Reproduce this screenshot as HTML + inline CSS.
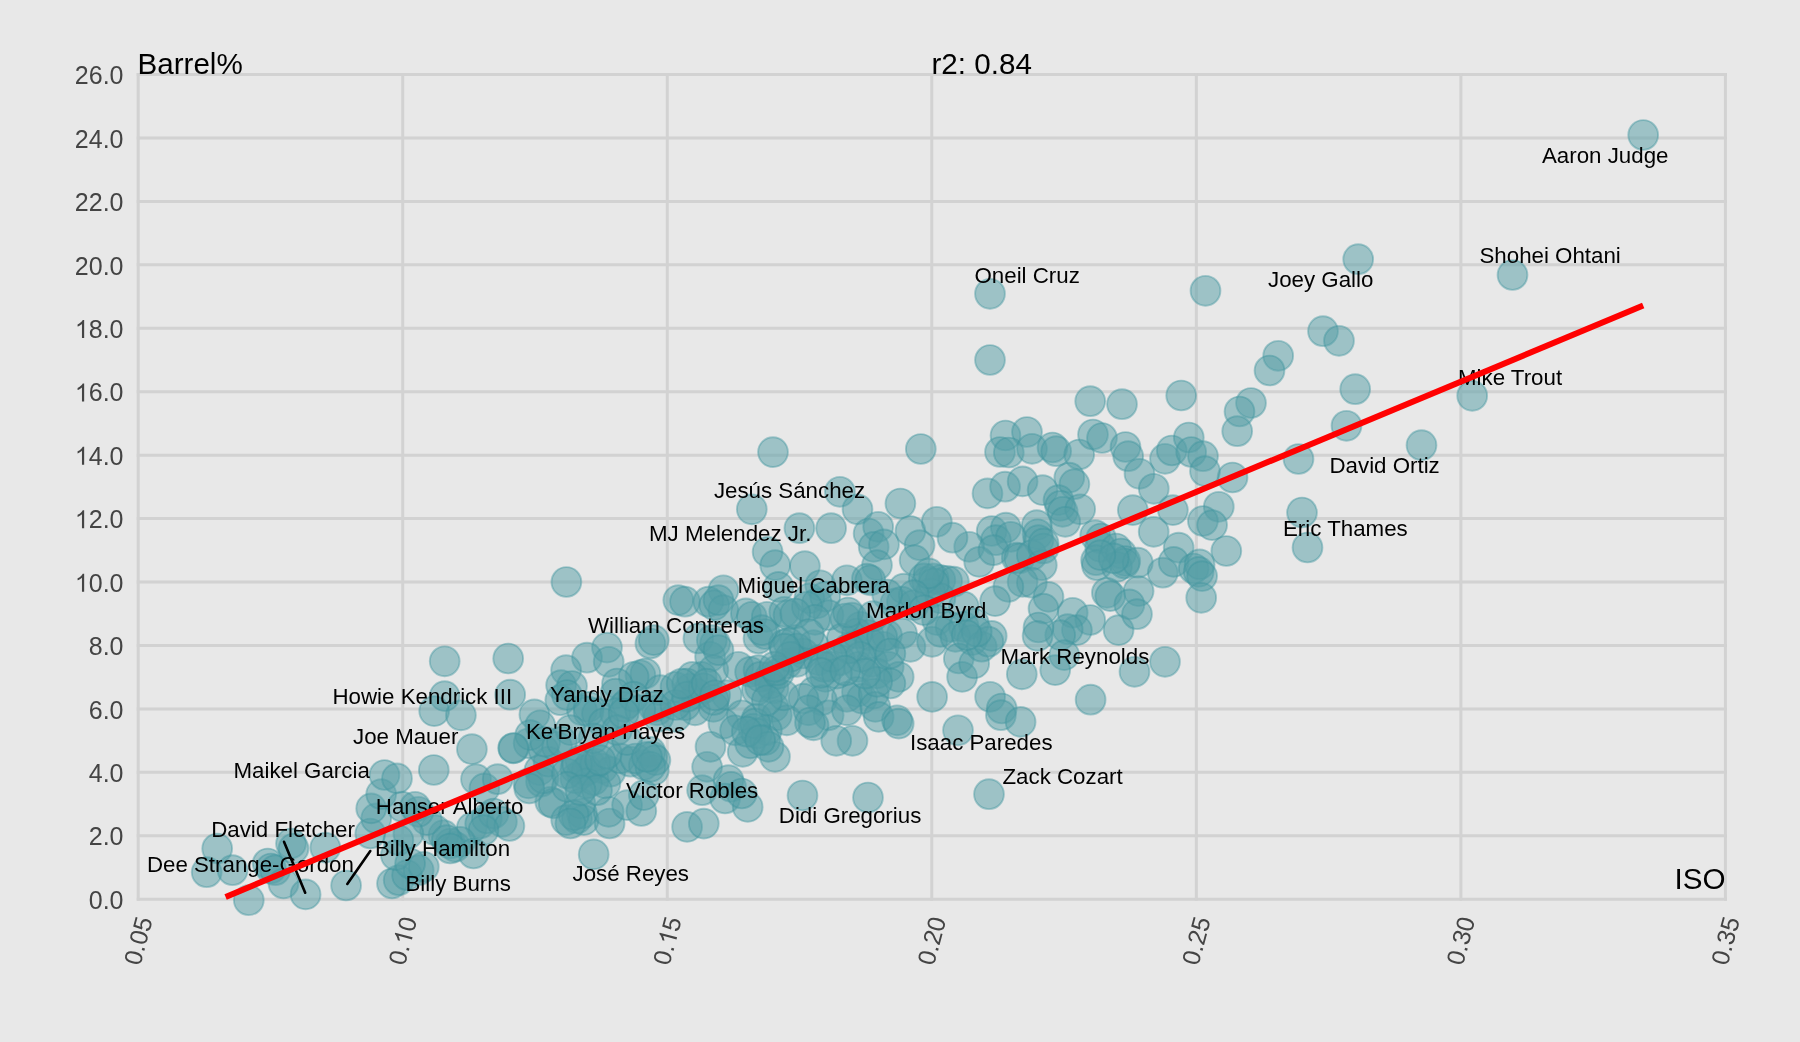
<!DOCTYPE html>
<html><head><meta charset="utf-8"><title>chart</title>
<style>
html,body{margin:0;padding:0;background:#e8e8e8;}
body{width:1800px;height:1042px;overflow:hidden;font-family:"Liberation Sans",sans-serif;}
svg{display:block;will-change:transform;opacity:0.999}
text{font-family:"Liberation Sans",sans-serif;}
.g{stroke:#d2d2d2;stroke-width:3;fill:none}
.yt{font-size:25px;fill:#444;text-anchor:end}
.xt{font-size:25px;fill:#444;text-anchor:end}
.nm{font-size:22.3px;fill:#000}
.ti{font-size:29.6px;fill:#000}
.c{fill:#539da5;fill-opacity:0.5;stroke:#3f939d;stroke-opacity:0.42;stroke-width:1.9}
</style></head><body>
<svg width="1800" height="1042" viewBox="0 0 1800 1042">

<line class="g" x1="136.7" x2="1726.9" y1="899.20" y2="899.20"/>
<line class="g" x1="136.7" x2="1726.9" y1="835.76" y2="835.76"/>
<line class="g" x1="136.7" x2="1726.9" y1="772.32" y2="772.32"/>
<line class="g" x1="136.7" x2="1726.9" y1="708.88" y2="708.88"/>
<line class="g" x1="136.7" x2="1726.9" y1="645.45" y2="645.45"/>
<line class="g" x1="136.7" x2="1726.9" y1="582.01" y2="582.01"/>
<line class="g" x1="136.7" x2="1726.9" y1="518.57" y2="518.57"/>
<line class="g" x1="136.7" x2="1726.9" y1="455.13" y2="455.13"/>
<line class="g" x1="136.7" x2="1726.9" y1="391.69" y2="391.69"/>
<line class="g" x1="136.7" x2="1726.9" y1="328.25" y2="328.25"/>
<line class="g" x1="136.7" x2="1726.9" y1="264.82" y2="264.82"/>
<line class="g" x1="136.7" x2="1726.9" y1="201.38" y2="201.38"/>
<line class="g" x1="136.7" x2="1726.9" y1="137.94" y2="137.94"/>
<line class="g" x1="136.7" x2="1726.9" y1="74.50" y2="74.50"/>
<line class="g" y1="73.0" y2="900.7" x1="138.20" x2="138.20"/>
<line class="g" y1="73.0" y2="900.7" x1="402.73" x2="402.73"/>
<line class="g" y1="73.0" y2="900.7" x1="667.27" x2="667.27"/>
<line class="g" y1="73.0" y2="900.7" x1="931.80" x2="931.80"/>
<line class="g" y1="73.0" y2="900.7" x1="1196.33" x2="1196.33"/>
<line class="g" y1="73.0" y2="900.7" x1="1460.87" x2="1460.87"/>
<line class="g" y1="73.0" y2="900.7" x1="1725.40" x2="1725.40"/>
<g transform="translate(123.5,908.90)"><text class="yt" x="0.00" y="0">0.0</text></g>
<g transform="translate(123.5,845.46)"><text class="yt" x="0.00" y="0">2.0</text></g>
<g transform="translate(123.5,782.02)"><text class="yt" x="0.00" y="0">4.0</text></g>
<g transform="translate(123.5,718.58)"><text class="yt" x="0.00" y="0">6.0</text></g>
<g transform="translate(123.5,655.15)"><text class="yt" x="0.00" y="0">8.0</text></g>
<g transform="translate(123.5,591.71)"><text class="yt" x="0.00" y="0">0.0</text><path d="M763 0H583V1147Q518 1085 412.5 1023Q307 961 223 930V1104Q374 1175 487 1276Q600 1377 647 1472H763Z" fill="#444" transform="translate(-48.65,0) scale(0.012207,-0.012207)"/></g>
<g transform="translate(123.5,528.27)"><text class="yt" x="0.00" y="0">2.0</text><path d="M763 0H583V1147Q518 1085 412.5 1023Q307 961 223 930V1104Q374 1175 487 1276Q600 1377 647 1472H763Z" fill="#444" transform="translate(-48.65,0) scale(0.012207,-0.012207)"/></g>
<g transform="translate(123.5,464.83)"><text class="yt" x="0.00" y="0">4.0</text><path d="M763 0H583V1147Q518 1085 412.5 1023Q307 961 223 930V1104Q374 1175 487 1276Q600 1377 647 1472H763Z" fill="#444" transform="translate(-48.65,0) scale(0.012207,-0.012207)"/></g>
<g transform="translate(123.5,401.39)"><text class="yt" x="0.00" y="0">6.0</text><path d="M763 0H583V1147Q518 1085 412.5 1023Q307 961 223 930V1104Q374 1175 487 1276Q600 1377 647 1472H763Z" fill="#444" transform="translate(-48.65,0) scale(0.012207,-0.012207)"/></g>
<g transform="translate(123.5,337.95)"><text class="yt" x="0.00" y="0">8.0</text><path d="M763 0H583V1147Q518 1085 412.5 1023Q307 961 223 930V1104Q374 1175 487 1276Q600 1377 647 1472H763Z" fill="#444" transform="translate(-48.65,0) scale(0.012207,-0.012207)"/></g>
<g transform="translate(123.5,274.52)"><text class="yt" x="0.00" y="0">20.0</text></g>
<g transform="translate(123.5,211.08)"><text class="yt" x="0.00" y="0">22.0</text></g>
<g transform="translate(123.5,147.64)"><text class="yt" x="0.00" y="0">24.0</text></g>
<g transform="translate(123.5,84.20)"><text class="yt" x="0.00" y="0">26.0</text></g>
<g transform="translate(152.80,919.5) rotate(-75)"><text class="xt" x="0.00" y="0">0.05</text></g>
<g transform="translate(417.33,919.5) rotate(-75)"><text class="xt" x="0.00" y="0">0</text><path d="M763 0H583V1147Q518 1085 412.5 1023Q307 961 223 930V1104Q374 1175 487 1276Q600 1377 647 1472H763Z" fill="#444" transform="translate(-27.80,0) scale(0.012207,-0.012207)"/><text class="xt" x="-27.80" y="0">0.</text></g>
<g transform="translate(681.87,919.5) rotate(-75)"><text class="xt" x="0.00" y="0">5</text><path d="M763 0H583V1147Q518 1085 412.5 1023Q307 961 223 930V1104Q374 1175 487 1276Q600 1377 647 1472H763Z" fill="#444" transform="translate(-27.80,0) scale(0.012207,-0.012207)"/><text class="xt" x="-27.80" y="0">0.</text></g>
<g transform="translate(946.40,919.5) rotate(-75)"><text class="xt" x="0.00" y="0">0.20</text></g>
<g transform="translate(1210.93,919.5) rotate(-75)"><text class="xt" x="0.00" y="0">0.25</text></g>
<g transform="translate(1475.47,919.5) rotate(-75)"><text class="xt" x="0.00" y="0">0.30</text></g>
<g transform="translate(1740.00,919.5) rotate(-75)"><text class="xt" x="0.00" y="0">0.35</text></g>
<circle class="c" cx="1643.2" cy="135.0" r="14.9"/>
<circle class="c" cx="1512.5" cy="275.0" r="14.9"/>
<circle class="c" cx="1358.2" cy="259.2" r="14.9"/>
<circle class="c" cx="1205.5" cy="290.8" r="14.9"/>
<circle class="c" cx="1323.0" cy="331.2" r="14.9"/>
<circle class="c" cx="1339.0" cy="340.8" r="14.9"/>
<circle class="c" cx="1278.2" cy="355.8" r="14.9"/>
<circle class="c" cx="1269.5" cy="370.5" r="14.9"/>
<circle class="c" cx="1355.2" cy="389.2" r="14.9"/>
<circle class="c" cx="1251.0" cy="403.0" r="14.9"/>
<circle class="c" cx="1239.5" cy="411.5" r="14.9"/>
<circle class="c" cx="1237.2" cy="431.2" r="14.9"/>
<circle class="c" cx="1346.5" cy="425.8" r="14.9"/>
<circle class="c" cx="1472.2" cy="395.8" r="14.9"/>
<circle class="c" cx="1421.5" cy="445.2" r="14.9"/>
<circle class="c" cx="1298.5" cy="459.0" r="14.9"/>
<circle class="c" cx="1232.5" cy="477.5" r="14.9"/>
<circle class="c" cx="990.0" cy="293.8" r="14.9"/>
<circle class="c" cx="990.0" cy="360.0" r="14.9"/>
<circle class="c" cx="1090.2" cy="401.2" r="14.9"/>
<circle class="c" cx="1122.0" cy="404.2" r="14.9"/>
<circle class="c" cx="1181.2" cy="395.5" r="14.9"/>
<circle class="c" cx="920.8" cy="449.0" r="14.9"/>
<circle class="c" cx="1005.5" cy="435.5" r="14.9"/>
<circle class="c" cx="1027.0" cy="432.0" r="14.9"/>
<circle class="c" cx="1000.0" cy="452.0" r="14.9"/>
<circle class="c" cx="1008.8" cy="452.5" r="14.9"/>
<circle class="c" cx="1032.0" cy="448.8" r="14.9"/>
<circle class="c" cx="1052.5" cy="447.5" r="14.9"/>
<circle class="c" cx="1056.2" cy="451.2" r="14.9"/>
<circle class="c" cx="1079.2" cy="454.5" r="14.9"/>
<circle class="c" cx="1093.0" cy="434.5" r="14.9"/>
<circle class="c" cx="1102.0" cy="438.0" r="14.9"/>
<circle class="c" cx="1125.5" cy="447.0" r="14.9"/>
<circle class="c" cx="1128.2" cy="456.2" r="14.9"/>
<circle class="c" cx="1165.0" cy="458.8" r="14.9"/>
<circle class="c" cx="1171.8" cy="450.5" r="14.9"/>
<circle class="c" cx="1188.8" cy="437.5" r="14.9"/>
<circle class="c" cx="1191.2" cy="452.0" r="14.9"/>
<circle class="c" cx="1203.0" cy="456.2" r="14.9"/>
<circle class="c" cx="1205.0" cy="471.2" r="14.9"/>
<circle class="c" cx="1139.5" cy="473.8" r="14.9"/>
<circle class="c" cx="1153.8" cy="488.8" r="14.9"/>
<circle class="c" cx="987.5" cy="493.4" r="14.9"/>
<circle class="c" cx="1005.1" cy="486.7" r="14.9"/>
<circle class="c" cx="1022.6" cy="481.4" r="14.9"/>
<circle class="c" cx="1042.6" cy="490.1" r="14.9"/>
<circle class="c" cx="1069.3" cy="477.6" r="14.9"/>
<circle class="c" cx="1074.4" cy="484.2" r="14.9"/>
<circle class="c" cx="1058.5" cy="500.1" r="14.9"/>
<circle class="c" cx="1060.2" cy="505.9" r="14.9"/>
<circle class="c" cx="1062.7" cy="511.8" r="14.9"/>
<circle class="c" cx="1080.2" cy="509.3" r="14.9"/>
<circle class="c" cx="1065.2" cy="521.8" r="14.9"/>
<circle class="c" cx="1132.8" cy="510.1" r="14.9"/>
<circle class="c" cx="1172.9" cy="510.1" r="14.9"/>
<circle class="c" cx="1218.8" cy="506.8" r="14.9"/>
<circle class="c" cx="1202.9" cy="521.0" r="14.9"/>
<circle class="c" cx="1212.1" cy="525.1" r="14.9"/>
<circle class="c" cx="1153.7" cy="531.8" r="14.9"/>
<circle class="c" cx="1178.7" cy="547.7" r="14.9"/>
<circle class="c" cx="1226.3" cy="551.0" r="14.9"/>
<circle class="c" cx="991.7" cy="531.0" r="14.9"/>
<circle class="c" cx="1005.9" cy="527.6" r="14.9"/>
<circle class="c" cx="995.9" cy="540.2" r="14.9"/>
<circle class="c" cx="1036.8" cy="525.1" r="14.9"/>
<circle class="c" cx="1037.6" cy="534.3" r="14.9"/>
<circle class="c" cx="1038.5" cy="540.2" r="14.9"/>
<circle class="c" cx="1010.9" cy="536.8" r="14.9"/>
<circle class="c" cx="969.2" cy="546.8" r="14.9"/>
<circle class="c" cx="979.2" cy="561.9" r="14.9"/>
<circle class="c" cx="993.4" cy="550.2" r="14.9"/>
<circle class="c" cx="1016.8" cy="557.7" r="14.9"/>
<circle class="c" cx="1019.3" cy="558.5" r="14.9"/>
<circle class="c" cx="1031.8" cy="555.2" r="14.9"/>
<circle class="c" cx="1043.5" cy="548.5" r="14.9"/>
<circle class="c" cx="1041.8" cy="565.2" r="14.9"/>
<circle class="c" cx="1095.2" cy="535.2" r="14.9"/>
<circle class="c" cx="1101.1" cy="538.5" r="14.9"/>
<circle class="c" cx="1100.2" cy="546.8" r="14.9"/>
<circle class="c" cx="1096.1" cy="560.2" r="14.9"/>
<circle class="c" cx="1096.9" cy="565.2" r="14.9"/>
<circle class="c" cx="1116.1" cy="548.5" r="14.9"/>
<circle class="c" cx="1121.1" cy="553.5" r="14.9"/>
<circle class="c" cx="1125.3" cy="561.0" r="14.9"/>
<circle class="c" cx="1116.9" cy="566.9" r="14.9"/>
<circle class="c" cx="1124.4" cy="563.5" r="14.9"/>
<circle class="c" cx="1137.8" cy="562.7" r="14.9"/>
<circle class="c" cx="1162.8" cy="572.7" r="14.9"/>
<circle class="c" cx="1173.7" cy="561.9" r="14.9"/>
<circle class="c" cx="1193.7" cy="568.5" r="14.9"/>
<circle class="c" cx="1199.6" cy="564.4" r="14.9"/>
<circle class="c" cx="1198.7" cy="571.9" r="14.9"/>
<circle class="c" cx="1202.1" cy="576.1" r="14.9"/>
<circle class="c" cx="1201.2" cy="597.8" r="14.9"/>
<circle class="c" cx="1138.6" cy="591.1" r="14.9"/>
<circle class="c" cx="1106.9" cy="592.8" r="14.9"/>
<circle class="c" cx="1110.3" cy="596.1" r="14.9"/>
<circle class="c" cx="1129.4" cy="604.4" r="14.9"/>
<circle class="c" cx="1022.6" cy="581.9" r="14.9"/>
<circle class="c" cx="1031.8" cy="582.7" r="14.9"/>
<circle class="c" cx="1008.4" cy="586.9" r="14.9"/>
<circle class="c" cx="995.1" cy="601.1" r="14.9"/>
<circle class="c" cx="1048.5" cy="596.9" r="14.9"/>
<circle class="c" cx="1043.5" cy="608.6" r="14.9"/>
<circle class="c" cx="1072.7" cy="612.8" r="14.9"/>
<circle class="c" cx="773.0" cy="452.1" r="14.9"/>
<circle class="c" cx="839.9" cy="491.8" r="14.9"/>
<circle class="c" cx="751.8" cy="509.3" r="14.9"/>
<circle class="c" cx="857.5" cy="509.3" r="14.9"/>
<circle class="c" cx="900.4" cy="503.5" r="14.9"/>
<circle class="c" cx="799.4" cy="528.2" r="14.9"/>
<circle class="c" cx="831.1" cy="528.2" r="14.9"/>
<circle class="c" cx="868.6" cy="533.5" r="14.9"/>
<circle class="c" cx="878.2" cy="526.8" r="14.9"/>
<circle class="c" cx="873.7" cy="546.9" r="14.9"/>
<circle class="c" cx="884.0" cy="544.4" r="14.9"/>
<circle class="c" cx="910.4" cy="531.0" r="14.9"/>
<circle class="c" cx="936.8" cy="521.8" r="14.9"/>
<circle class="c" cx="919.6" cy="545.2" r="14.9"/>
<circle class="c" cx="952.5" cy="537.7" r="14.9"/>
<circle class="c" cx="914.6" cy="560.2" r="14.9"/>
<circle class="c" cx="767.6" cy="551.9" r="14.9"/>
<circle class="c" cx="775.2" cy="565.2" r="14.9"/>
<circle class="c" cx="804.9" cy="566.1" r="14.9"/>
<circle class="c" cx="877.0" cy="565.2" r="14.9"/>
<circle class="c" cx="723.4" cy="590.3" r="14.9"/>
<circle class="c" cx="778.5" cy="586.9" r="14.9"/>
<circle class="c" cx="820.2" cy="585.3" r="14.9"/>
<circle class="c" cx="846.9" cy="580.3" r="14.9"/>
<circle class="c" cx="867.0" cy="578.6" r="14.9"/>
<circle class="c" cx="870.3" cy="580.3" r="14.9"/>
<circle class="c" cx="903.7" cy="588.6" r="14.9"/>
<circle class="c" cx="927.1" cy="581.7" r="14.9"/>
<circle class="c" cx="933.8" cy="578.4" r="14.9"/>
<circle class="c" cx="940.4" cy="580.0" r="14.9"/>
<circle class="c" cx="947.1" cy="580.9" r="14.9"/>
<circle class="c" cx="953.8" cy="581.7" r="14.9"/>
<circle class="c" cx="678.3" cy="600.1" r="14.9"/>
<circle class="c" cx="685.0" cy="601.7" r="14.9"/>
<circle class="c" cx="708.4" cy="601.7" r="14.9"/>
<circle class="c" cx="714.2" cy="605.1" r="14.9"/>
<circle class="c" cx="723.4" cy="610.1" r="14.9"/>
<circle class="c" cx="745.9" cy="613.4" r="14.9"/>
<circle class="c" cx="751.8" cy="616.8" r="14.9"/>
<circle class="c" cx="766.8" cy="616.8" r="14.9"/>
<circle class="c" cx="784.3" cy="611.8" r="14.9"/>
<circle class="c" cx="788.5" cy="615.1" r="14.9"/>
<circle class="c" cx="809.4" cy="598.4" r="14.9"/>
<circle class="c" cx="816.9" cy="603.4" r="14.9"/>
<circle class="c" cx="825.2" cy="596.7" r="14.9"/>
<circle class="c" cx="828.6" cy="615.1" r="14.9"/>
<circle class="c" cx="852.0" cy="617.6" r="14.9"/>
<circle class="c" cx="860.3" cy="626.8" r="14.9"/>
<circle class="c" cx="895.4" cy="603.4" r="14.9"/>
<circle class="c" cx="902.0" cy="601.7" r="14.9"/>
<circle class="c" cx="913.7" cy="605.1" r="14.9"/>
<circle class="c" cx="930.4" cy="593.4" r="14.9"/>
<circle class="c" cx="940.4" cy="598.4" r="14.9"/>
<circle class="c" cx="963.8" cy="606.7" r="14.9"/>
<circle class="c" cx="937.1" cy="620.1" r="14.9"/>
<circle class="c" cx="950.5" cy="626.8" r="14.9"/>
<circle class="c" cx="963.8" cy="626.8" r="14.9"/>
<circle class="c" cx="973.8" cy="623.4" r="14.9"/>
<circle class="c" cx="698.4" cy="638.5" r="14.9"/>
<circle class="c" cx="715.1" cy="643.5" r="14.9"/>
<circle class="c" cx="710.1" cy="656.8" r="14.9"/>
<circle class="c" cx="758.5" cy="638.5" r="14.9"/>
<circle class="c" cx="765.1" cy="634.0" r="14.9"/>
<circle class="c" cx="783.8" cy="644.7" r="14.9"/>
<circle class="c" cx="795.2" cy="640.1" r="14.9"/>
<circle class="c" cx="813.6" cy="645.1" r="14.9"/>
<circle class="c" cx="803.5" cy="653.5" r="14.9"/>
<circle class="c" cx="841.9" cy="638.5" r="14.9"/>
<circle class="c" cx="855.3" cy="648.5" r="14.9"/>
<circle class="c" cx="868.6" cy="635.1" r="14.9"/>
<circle class="c" cx="883.7" cy="646.8" r="14.9"/>
<circle class="c" cx="887.0" cy="635.1" r="14.9"/>
<circle class="c" cx="902.0" cy="633.5" r="14.9"/>
<circle class="c" cx="910.4" cy="646.8" r="14.9"/>
<circle class="c" cx="932.1" cy="641.8" r="14.9"/>
<circle class="c" cx="940.4" cy="631.8" r="14.9"/>
<circle class="c" cx="955.5" cy="636.8" r="14.9"/>
<circle class="c" cx="972.2" cy="640.1" r="14.9"/>
<circle class="c" cx="958.8" cy="658.5" r="14.9"/>
<circle class="c" cx="690.0" cy="688.5" r="14.9"/>
<circle class="c" cx="701.7" cy="676.9" r="14.9"/>
<circle class="c" cx="713.4" cy="670.2" r="14.9"/>
<circle class="c" cx="696.7" cy="693.6" r="14.9"/>
<circle class="c" cx="738.4" cy="666.8" r="14.9"/>
<circle class="c" cx="750.1" cy="671.9" r="14.9"/>
<circle class="c" cx="758.5" cy="670.2" r="14.9"/>
<circle class="c" cx="770.2" cy="676.9" r="14.9"/>
<circle class="c" cx="760.1" cy="686.9" r="14.9"/>
<circle class="c" cx="773.5" cy="688.5" r="14.9"/>
<circle class="c" cx="786.8" cy="663.5" r="14.9"/>
<circle class="c" cx="796.9" cy="661.8" r="14.9"/>
<circle class="c" cx="818.6" cy="660.2" r="14.9"/>
<circle class="c" cx="830.3" cy="666.8" r="14.9"/>
<circle class="c" cx="825.2" cy="676.9" r="14.9"/>
<circle class="c" cx="840.3" cy="660.2" r="14.9"/>
<circle class="c" cx="858.6" cy="666.8" r="14.9"/>
<circle class="c" cx="872.0" cy="661.8" r="14.9"/>
<circle class="c" cx="877.0" cy="673.5" r="14.9"/>
<circle class="c" cx="888.7" cy="666.8" r="14.9"/>
<circle class="c" cx="898.7" cy="676.9" r="14.9"/>
<circle class="c" cx="890.4" cy="683.5" r="14.9"/>
<circle class="c" cx="857.0" cy="691.9" r="14.9"/>
<circle class="c" cx="862.0" cy="698.6" r="14.9"/>
<circle class="c" cx="846.9" cy="696.9" r="14.9"/>
<circle class="c" cx="873.7" cy="693.6" r="14.9"/>
<circle class="c" cx="813.6" cy="691.9" r="14.9"/>
<circle class="c" cx="821.9" cy="700.2" r="14.9"/>
<circle class="c" cx="803.5" cy="698.6" r="14.9"/>
<circle class="c" cx="932.1" cy="696.9" r="14.9"/>
<circle class="c" cx="962.1" cy="676.9" r="14.9"/>
<circle class="c" cx="726.7" cy="695.2" r="14.9"/>
<circle class="c" cx="713.4" cy="706.9" r="14.9"/>
<circle class="c" cx="695.0" cy="710.3" r="14.9"/>
<circle class="c" cx="685.0" cy="705.2" r="14.9"/>
<circle class="c" cx="741.8" cy="715.3" r="14.9"/>
<circle class="c" cx="756.8" cy="718.6" r="14.9"/>
<circle class="c" cx="773.5" cy="706.9" r="14.9"/>
<circle class="c" cx="776.8" cy="715.3" r="14.9"/>
<circle class="c" cx="786.8" cy="720.3" r="14.9"/>
<circle class="c" cx="808.5" cy="710.3" r="14.9"/>
<circle class="c" cx="828.6" cy="715.3" r="14.9"/>
<circle class="c" cx="813.6" cy="725.3" r="14.9"/>
<circle class="c" cx="846.9" cy="710.3" r="14.9"/>
<circle class="c" cx="875.3" cy="706.9" r="14.9"/>
<circle class="c" cx="878.7" cy="716.9" r="14.9"/>
<circle class="c" cx="897.0" cy="720.3" r="14.9"/>
<circle class="c" cx="898.7" cy="723.6" r="14.9"/>
<circle class="c" cx="958.0" cy="730.3" r="14.9"/>
<circle class="c" cx="723.4" cy="723.6" r="14.9"/>
<circle class="c" cx="753.5" cy="728.6" r="14.9"/>
<circle class="c" cx="766.8" cy="730.3" r="14.9"/>
<circle class="c" cx="735.1" cy="730.3" r="14.9"/>
<circle class="c" cx="1302.0" cy="512.5" r="14.9"/>
<circle class="c" cx="1307.5" cy="547.5" r="14.9"/>
<circle class="c" cx="1165.0" cy="661.8" r="14.9"/>
<circle class="c" cx="1134.5" cy="671.8" r="14.9"/>
<circle class="c" cx="1090.6" cy="699.7" r="14.9"/>
<circle class="c" cx="1118.6" cy="630.1" r="14.9"/>
<circle class="c" cx="1137.0" cy="614.2" r="14.9"/>
<circle class="c" cx="1090.2" cy="620.0" r="14.9"/>
<circle class="c" cx="1076.9" cy="630.1" r="14.9"/>
<circle class="c" cx="1067.7" cy="629.2" r="14.9"/>
<circle class="c" cx="1060.2" cy="635.1" r="14.9"/>
<circle class="c" cx="1038.5" cy="627.5" r="14.9"/>
<circle class="c" cx="1037.6" cy="635.9" r="14.9"/>
<circle class="c" cx="1064.3" cy="655.1" r="14.9"/>
<circle class="c" cx="1055.2" cy="670.1" r="14.9"/>
<circle class="c" cx="1021.8" cy="674.3" r="14.9"/>
<circle class="c" cx="990.1" cy="696.8" r="14.9"/>
<circle class="c" cx="1001.7" cy="708.5" r="14.9"/>
<circle class="c" cx="1000.9" cy="715.2" r="14.9"/>
<circle class="c" cx="1020.6" cy="721.9" r="14.9"/>
<circle class="c" cx="974.2" cy="663.4" r="14.9"/>
<circle class="c" cx="981.7" cy="646.7" r="14.9"/>
<circle class="c" cx="991.7" cy="635.9" r="14.9"/>
<circle class="c" cx="988.4" cy="641.7" r="14.9"/>
<circle class="c" cx="976.7" cy="631.7" r="14.9"/>
<circle class="c" cx="966.7" cy="635.1" r="14.9"/>
<circle class="c" cx="989.0" cy="794.2" r="14.9"/>
<circle class="c" cx="868.0" cy="797.5" r="14.9"/>
<circle class="c" cx="802.5" cy="795.5" r="14.9"/>
<circle class="c" cx="852.5" cy="740.8" r="14.9"/>
<circle class="c" cx="836.2" cy="740.8" r="14.9"/>
<circle class="c" cx="775.0" cy="756.8" r="14.9"/>
<circle class="c" cx="810.0" cy="722.5" r="14.9"/>
<circle class="c" cx="217.2" cy="848.5" r="14.9"/>
<circle class="c" cx="206.7" cy="872.2" r="14.9"/>
<circle class="c" cx="232.6" cy="870.2" r="14.9"/>
<circle class="c" cx="248.8" cy="900.2" r="14.9"/>
<circle class="c" cx="267.7" cy="863.5" r="14.9"/>
<circle class="c" cx="271.0" cy="868.5" r="14.9"/>
<circle class="c" cx="275.2" cy="870.2" r="14.9"/>
<circle class="c" cx="283.5" cy="883.5" r="14.9"/>
<circle class="c" cx="291.0" cy="843.5" r="14.9"/>
<circle class="c" cx="293.5" cy="848.5" r="14.9"/>
<circle class="c" cx="305.6" cy="894.4" r="14.9"/>
<circle class="c" cx="325.3" cy="847.6" r="14.9"/>
<circle class="c" cx="346.1" cy="885.5" r="14.9"/>
<circle class="c" cx="370.3" cy="833.5" r="14.9"/>
<circle class="c" cx="376.2" cy="818.4" r="14.9"/>
<circle class="c" cx="371.2" cy="808.4" r="14.9"/>
<circle class="c" cx="381.2" cy="794.2" r="14.9"/>
<circle class="c" cx="384.5" cy="775.0" r="14.9"/>
<circle class="c" cx="397.0" cy="778.4" r="14.9"/>
<circle class="c" cx="433.8" cy="770.0" r="14.9"/>
<circle class="c" cx="402.1" cy="806.7" r="14.9"/>
<circle class="c" cx="392.0" cy="883.5" r="14.9"/>
<circle class="c" cx="398.7" cy="880.2" r="14.9"/>
<circle class="c" cx="407.1" cy="875.2" r="14.9"/>
<circle class="c" cx="418.7" cy="870.2" r="14.9"/>
<circle class="c" cx="423.8" cy="866.8" r="14.9"/>
<circle class="c" cx="593.7" cy="854.4" r="14.9"/>
<circle class="c" cx="471.9" cy="749.2" r="14.9"/>
<circle class="c" cx="476.0" cy="779.2" r="14.9"/>
<circle class="c" cx="484.4" cy="788.4" r="14.9"/>
<circle class="c" cx="497.7" cy="779.2" r="14.9"/>
<circle class="c" cx="513.6" cy="748.3" r="14.9"/>
<circle class="c" cx="528.6" cy="783.4" r="14.9"/>
<circle class="c" cx="539.5" cy="770.1" r="14.9"/>
<circle class="c" cx="541.1" cy="781.7" r="14.9"/>
<circle class="c" cx="548.6" cy="761.7" r="14.9"/>
<circle class="c" cx="550.3" cy="801.8" r="14.9"/>
<circle class="c" cx="553.7" cy="803.4" r="14.9"/>
<circle class="c" cx="566.2" cy="820.1" r="14.9"/>
<circle class="c" cx="577.0" cy="818.5" r="14.9"/>
<circle class="c" cx="582.0" cy="813.5" r="14.9"/>
<circle class="c" cx="583.7" cy="820.1" r="14.9"/>
<circle class="c" cx="580.4" cy="803.4" r="14.9"/>
<circle class="c" cx="609.6" cy="823.5" r="14.9"/>
<circle class="c" cx="608.7" cy="811.8" r="14.9"/>
<circle class="c" cx="627.1" cy="805.1" r="14.9"/>
<circle class="c" cx="641.3" cy="811.0" r="14.9"/>
<circle class="c" cx="643.8" cy="795.1" r="14.9"/>
<circle class="c" cx="575.4" cy="768.4" r="14.9"/>
<circle class="c" cx="582.0" cy="773.4" r="14.9"/>
<circle class="c" cx="590.4" cy="765.0" r="14.9"/>
<circle class="c" cx="602.1" cy="768.4" r="14.9"/>
<circle class="c" cx="610.4" cy="771.7" r="14.9"/>
<circle class="c" cx="593.7" cy="780.1" r="14.9"/>
<circle class="c" cx="575.4" cy="778.4" r="14.9"/>
<circle class="c" cx="605.4" cy="783.4" r="14.9"/>
<circle class="c" cx="620.4" cy="758.4" r="14.9"/>
<circle class="c" cx="630.5" cy="761.7" r="14.9"/>
<circle class="c" cx="643.8" cy="765.0" r="14.9"/>
<circle class="c" cx="652.2" cy="756.7" r="14.9"/>
<circle class="c" cx="653.8" cy="770.1" r="14.9"/>
<circle class="c" cx="528.6" cy="743.3" r="14.9"/>
<circle class="c" cx="543.6" cy="750.0" r="14.9"/>
<circle class="c" cx="557.0" cy="746.7" r="14.9"/>
<circle class="c" cx="471.9" cy="827.6" r="14.9"/>
<circle class="c" cx="480.2" cy="823.5" r="14.9"/>
<circle class="c" cx="486.9" cy="818.5" r="14.9"/>
<circle class="c" cx="493.6" cy="813.5" r="14.9"/>
<circle class="c" cx="501.9" cy="821.8" r="14.9"/>
<circle class="c" cx="509.4" cy="826.0" r="14.9"/>
<circle class="c" cx="483.5" cy="830.2" r="14.9"/>
<circle class="c" cx="450.2" cy="843.5" r="14.9"/>
<circle class="c" cx="455.2" cy="846.8" r="14.9"/>
<circle class="c" cx="460.2" cy="841.8" r="14.9"/>
<circle class="c" cx="443.5" cy="835.2" r="14.9"/>
<circle class="c" cx="435.1" cy="830.2" r="14.9"/>
<circle class="c" cx="426.8" cy="820.1" r="14.9"/>
<circle class="c" cx="418.4" cy="811.8" r="14.9"/>
<circle class="c" cx="408.4" cy="833.5" r="14.9"/>
<circle class="c" cx="398.4" cy="840.2" r="14.9"/>
<circle class="c" cx="415.1" cy="806.8" r="14.9"/>
<circle class="c" cx="473.5" cy="853.5" r="14.9"/>
<circle class="c" cx="395.9" cy="855.2" r="14.9"/>
<circle class="c" cx="410.1" cy="863.5" r="14.9"/>
<circle class="c" cx="566.4" cy="582.0" r="14.9"/>
<circle class="c" cx="444.7" cy="661.3" r="14.9"/>
<circle class="c" cx="508.2" cy="658.5" r="14.9"/>
<circle class="c" cx="444.7" cy="696.1" r="14.9"/>
<circle class="c" cx="510.2" cy="694.7" r="14.9"/>
<circle class="c" cx="434.2" cy="711.1" r="14.9"/>
<circle class="c" cx="460.9" cy="715.3" r="14.9"/>
<circle class="c" cx="607.0" cy="647.6" r="14.9"/>
<circle class="c" cx="587.0" cy="657.7" r="14.9"/>
<circle class="c" cx="608.7" cy="661.8" r="14.9"/>
<circle class="c" cx="566.1" cy="670.2" r="14.9"/>
<circle class="c" cx="561.1" cy="685.2" r="14.9"/>
<circle class="c" cx="572.0" cy="686.0" r="14.9"/>
<circle class="c" cx="560.3" cy="700.2" r="14.9"/>
<circle class="c" cx="534.4" cy="714.4" r="14.9"/>
<circle class="c" cx="540.2" cy="725.3" r="14.9"/>
<circle class="c" cx="650.4" cy="643.5" r="14.9"/>
<circle class="c" cx="653.8" cy="640.1" r="14.9"/>
<circle class="c" cx="640.4" cy="675.2" r="14.9"/>
<circle class="c" cx="645.4" cy="673.5" r="14.9"/>
<circle class="c" cx="633.7" cy="676.9" r="14.9"/>
<circle class="c" cx="617.0" cy="683.5" r="14.9"/>
<circle class="c" cx="615.4" cy="693.6" r="14.9"/>
<circle class="c" cx="623.7" cy="706.9" r="14.9"/>
<circle class="c" cx="627.0" cy="703.6" r="14.9"/>
<circle class="c" cx="588.6" cy="706.9" r="14.9"/>
<circle class="c" cx="582.0" cy="710.3" r="14.9"/>
<circle class="c" cx="597.0" cy="713.6" r="14.9"/>
<circle class="c" cx="657.1" cy="710.3" r="14.9"/>
<circle class="c" cx="660.4" cy="690.2" r="14.9"/>
<circle class="c" cx="675.5" cy="686.9" r="14.9"/>
<circle class="c" cx="687.1" cy="683.5" r="14.9"/>
<circle class="c" cx="692.2" cy="676.9" r="14.9"/>
<circle class="c" cx="675.5" cy="716.9" r="14.9"/>
<circle class="c" cx="530.2" cy="735.1" r="14.9"/>
<circle class="c" cx="545.2" cy="741.8" r="14.9"/>
<circle class="c" cx="543.5" cy="778.5" r="14.9"/>
<circle class="c" cx="529.3" cy="788.5" r="14.9"/>
<circle class="c" cx="687.1" cy="826.9" r="14.9"/>
<circle class="c" cx="703.8" cy="823.6" r="14.9"/>
<circle class="c" cx="702.1" cy="790.2" r="14.9"/>
<circle class="c" cx="707.1" cy="766.8" r="14.9"/>
<circle class="c" cx="710.5" cy="746.8" r="14.9"/>
<circle class="c" cx="580.3" cy="760.1" r="14.9"/>
<circle class="c" cx="586.9" cy="770.2" r="14.9"/>
<circle class="c" cx="595.3" cy="763.5" r="14.9"/>
<circle class="c" cx="586.9" cy="783.5" r="14.9"/>
<circle class="c" cx="597.0" cy="790.2" r="14.9"/>
<circle class="c" cx="566.9" cy="773.5" r="14.9"/>
<circle class="c" cx="607.0" cy="753.5" r="14.9"/>
<circle class="c" cx="635.4" cy="758.5" r="14.9"/>
<circle class="c" cx="650.4" cy="751.8" r="14.9"/>
<circle class="c" cx="655.4" cy="760.1" r="14.9"/>
<circle class="c" cx="650.4" cy="766.8" r="14.9"/>
<circle class="c" cx="566.9" cy="695.0" r="14.9"/>
<circle class="c" cx="588.6" cy="711.7" r="14.9"/>
<circle class="c" cx="615.3" cy="713.4" r="14.9"/>
<circle class="c" cx="633.7" cy="696.7" r="14.9"/>
<circle class="c" cx="658.7" cy="716.7" r="14.9"/>
<circle class="c" cx="653.7" cy="706.7" r="14.9"/>
<circle class="c" cx="675.4" cy="705.0" r="14.9"/>
<circle class="c" cx="687.1" cy="696.7" r="14.9"/>
<circle class="c" cx="703.8" cy="688.3" r="14.9"/>
<circle class="c" cx="713.8" cy="700.0" r="14.9"/>
<circle class="c" cx="603.6" cy="723.4" r="14.9"/>
<circle class="c" cx="617.0" cy="730.1" r="14.9"/>
<circle class="c" cx="570.3" cy="730.1" r="14.9"/>
<circle class="c" cx="561.9" cy="741.8" r="14.9"/>
<circle class="c" cx="593.6" cy="738.4" r="14.9"/>
<circle class="c" cx="627.0" cy="740.1" r="14.9"/>
<circle class="c" cx="742.7" cy="751.8" r="14.9"/>
<circle class="c" cx="750.2" cy="743.4" r="14.9"/>
<circle class="c" cx="756.9" cy="733.4" r="14.9"/>
<circle class="c" cx="765.2" cy="740.1" r="14.9"/>
<circle class="c" cx="755.2" cy="723.4" r="14.9"/>
<circle class="c" cx="768.5" cy="746.8" r="14.9"/>
<circle class="c" cx="746.8" cy="731.7" r="14.9"/>
<circle class="c" cx="760.2" cy="740.1" r="14.9"/>
<circle class="c" cx="728.5" cy="780.2" r="14.9"/>
<circle class="c" cx="731.0" cy="786.8" r="14.9"/>
<circle class="c" cx="725.1" cy="798.5" r="14.9"/>
<circle class="c" cx="747.7" cy="806.9" r="14.9"/>
<circle class="c" cx="741.8" cy="793.5" r="14.9"/>
<circle class="c" cx="718.5" cy="600.1" r="14.9"/>
<circle class="c" cx="806.9" cy="606.8" r="14.9"/>
<circle class="c" cx="761.9" cy="630.2" r="14.9"/>
<circle class="c" cx="711.8" cy="640.2" r="14.9"/>
<circle class="c" cx="718.5" cy="650.2" r="14.9"/>
<circle class="c" cx="788.5" cy="642.8" r="14.9"/>
<circle class="c" cx="796.9" cy="648.5" r="14.9"/>
<circle class="c" cx="790.3" cy="656.9" r="14.9"/>
<circle class="c" cx="857.0" cy="633.5" r="14.9"/>
<circle class="c" cx="870.4" cy="643.5" r="14.9"/>
<circle class="c" cx="882.1" cy="636.8" r="14.9"/>
<circle class="c" cx="890.4" cy="653.5" r="14.9"/>
<circle class="c" cx="860.4" cy="656.9" r="14.9"/>
<circle class="c" cx="877.1" cy="681.9" r="14.9"/>
<circle class="c" cx="865.4" cy="673.6" r="14.9"/>
<circle class="c" cx="848.7" cy="648.5" r="14.9"/>
<circle class="c" cx="823.6" cy="666.9" r="14.9"/>
<circle class="c" cx="837.0" cy="673.6" r="14.9"/>
<circle class="c" cx="832.0" cy="656.9" r="14.9"/>
<circle class="c" cx="760.2" cy="676.9" r="14.9"/>
<circle class="c" cx="770.2" cy="683.6" r="14.9"/>
<circle class="c" cx="756.9" cy="690.3" r="14.9"/>
<circle class="c" cx="778.6" cy="673.6" r="14.9"/>
<circle class="c" cx="783.6" cy="695.3" r="14.9"/>
<circle class="c" cx="766.9" cy="700.3" r="14.9"/>
<circle class="c" cx="681.7" cy="683.6" r="14.9"/>
<circle class="c" cx="706.8" cy="683.6" r="14.9"/>
<circle class="c" cx="715.1" cy="695.3" r="14.9"/>
<circle class="c" cx="923.8" cy="578.4" r="14.9"/>
<circle class="c" cx="933.8" cy="583.4" r="14.9"/>
<circle class="c" cx="928.8" cy="573.4" r="14.9"/>
<circle class="c" cx="913.8" cy="595.1" r="14.9"/>
<circle class="c" cx="923.8" cy="610.1" r="14.9"/>
<circle class="c" cx="815.0" cy="619.8" r="14.9"/>
<circle class="c" cx="845.3" cy="618.5" r="14.9"/>
<circle class="c" cx="795.3" cy="613.5" r="14.9"/>
<circle class="c" cx="1113.7" cy="558.4" r="14.9"/>
<circle class="c" cx="1100.3" cy="555.1" r="14.9"/>
<circle class="c" cx="1043.6" cy="543.4" r="14.9"/>
<circle class="c" cx="576.9" cy="763.5" r="14.9"/>
<circle class="c" cx="600.3" cy="760.2" r="14.9"/>
<circle class="c" cx="647.0" cy="756.9" r="14.9"/>
<circle class="c" cx="640.3" cy="710.1" r="14.9"/>
<circle class="c" cx="623.6" cy="713.5" r="14.9"/>
<circle class="c" cx="446.8" cy="840.2" r="14.9"/>
<circle class="c" cx="450.2" cy="848.5" r="14.9"/>
<circle class="c" cx="573.7" cy="815.1" r="14.9"/>
<circle class="c" cx="570.4" cy="823.5" r="14.9"/>
<circle class="c" cx="513.2" cy="748.0" r="14.9"/>
<circle class="c" cx="567.1" cy="786.9" r="14.9"/>
<circle class="c" cx="580.5" cy="790.3" r="14.9"/>
<circle class="c" cx="808.9" cy="634.0" r="14.9"/>
<circle class="c" cx="848.1" cy="612.5" r="14.9"/>
<circle class="c" cx="777.0" cy="670.4" r="14.9"/>
<circle class="c" cx="774.5" cy="666.7" r="14.9"/>
<circle class="c" cx="820.9" cy="672.9" r="14.9"/>
<circle class="c" cx="784.9" cy="648.7" r="14.9"/>
<circle class="c" cx="845.3" cy="670.6" r="14.9"/>
<circle class="c" cx="887.2" cy="594.5" r="14.9"/>
<circle class="c" cx="873.0" cy="616.2" r="14.9"/>
<text class="nm" x="1542" y="163.3">Aaron Judge</text>
<text class="nm" x="1479.5" y="263.3">Shohei Ohtani</text>
<text class="nm" x="1268" y="287.1">Joey Gallo</text>
<text class="nm" x="974.5" y="282.8">Oneil Cruz</text>
<text class="nm" x="1458" y="385.3">Mike Trout</text>
<text class="nm" x="1329.5" y="473.3">David Ortiz</text>
<text class="nm" x="1283" y="535.8">Eric Thames</text>
<text class="nm" x="713.9" y="497.9">Jesús Sánchez</text>
<text class="nm" x="649" y="541.3">MJ Melendez Jr.</text>
<text class="nm" x="737.6" y="593.4">Miguel Cabrera</text>
<text class="nm" x="866.1" y="618.4">Marlon Byrd</text>
<text class="nm" x="588" y="632.6">William Contreras</text>
<text class="nm" x="1000.6" y="664.2">Mark Reynolds</text>
<text class="nm" x="332.5" y="703.8">Howie Kendrick III</text>
<text class="nm" x="550" y="701.8">Yandy Díaz</text>
<text class="nm" x="353" y="743.8">Joe Mauer</text>
<text class="nm" x="526" y="738.8">Ke'Bryan Hayes</text>
<text class="nm" x="910" y="749.6">Isaac Paredes</text>
<text class="nm" x="233.5" y="778.3">Maikel Garcia</text>
<text class="nm" x="1002.5" y="783.8">Zack Cozart</text>
<text class="nm" x="626" y="797.8">Victor Robles</text>
<text class="nm" x="375.8" y="814.2">Hanser Alberto</text>
<text class="nm" x="778.8" y="823.3">Didi Gregorius</text>
<text class="nm" x="211.2" y="836.8">David Fletcher</text>
<text class="nm" x="375.0" y="855.5">Billy Hamilton</text>
<text class="nm" x="146.9" y="872.3">Dee Strange-Gordon</text>
<text class="nm" x="405.5" y="890.6">Billy Burns</text>
<text class="nm" x="572.5" y="881.2">José Reyes</text>
<line x1="284" y1="841.8" x2="305.2" y2="892.7" stroke="#000" stroke-width="2.6" stroke-linecap="round"/><line x1="370.3" y1="851" x2="347.3" y2="883.9" stroke="#000" stroke-width="2.6" stroke-linecap="round"/><line x1="225.6" y1="896.9" x2="1643.2" y2="305.5" stroke="#ff0000" stroke-width="6"/>
<text class="ti" x="137.5" y="73.5">Barrel%</text>
<text class="ti" x="931.5" y="73.5">r2: 0.84</text>
<text class="ti" x="1725.5" y="888.5" text-anchor="end">ISO</text>
</svg></body></html>
